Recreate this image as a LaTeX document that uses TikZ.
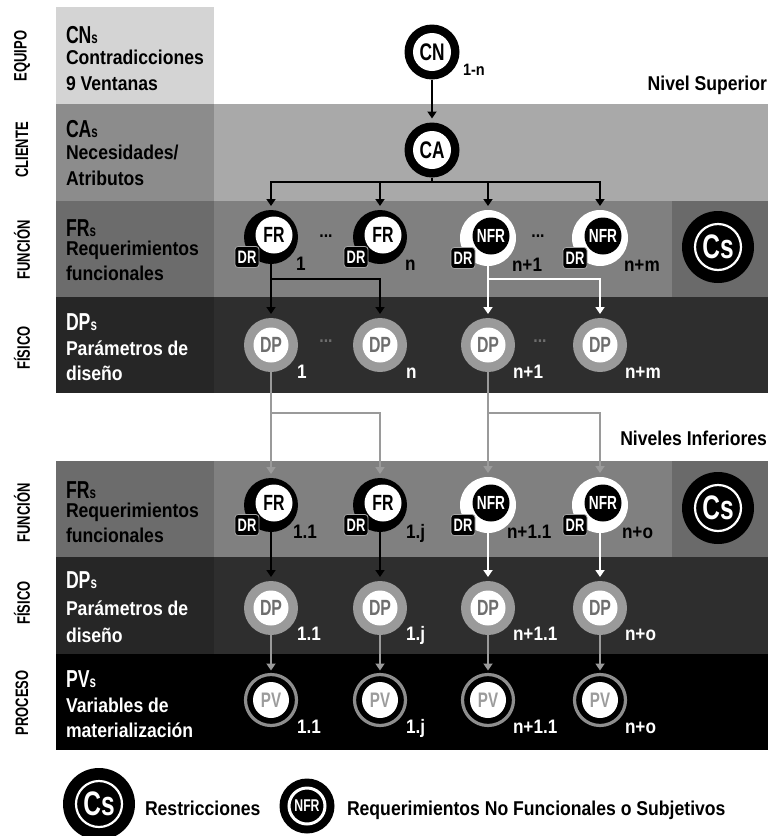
\documentclass[tikz,border=0pt]{standalone}
\usepackage{fontspec}
\setmainfont{Liberation Sans}[FakeStretch=0.88]
\newfontfamily\condfont{Liberation Sans}[FakeStretch=0.72]
\usetikzlibrary{arrows.meta}

% band and element colours
\definecolor{equipoL}{HTML}{D4D4D4}
\definecolor{clienteL}{HTML}{8C8C8C}
\definecolor{clienteR}{HTML}{A9A9A9}
\definecolor{funcL}{HTML}{6C6C6C}
\definecolor{funcM}{HTML}{808080}
\definecolor{funcC}{HTML}{6A6A6A}
\definecolor{fisL}{HTML}{262626}
\definecolor{fisM}{HTML}{2E2E2E}
\definecolor{dpring}{HTML}{9A9A9A}
\definecolor{dptext}{HTML}{6E6E6E}
\definecolor{pvring}{HTML}{8E8E8E}
\definecolor{pvtext}{HTML}{9C9C9C}
\definecolor{gline}{HTML}{9A9A9A}

\tikzset{
  every node/.style={inner sep=0pt, outer sep=0pt},
  bodytxt/.style={anchor=base west, font=\bfseries\fontsize{20}{22}\selectfont},
  headtxt/.style={anchor=base west, font=\condfont\bfseries\fontsize{24.5}{26}\selectfont},
  sidetxt/.style={rotate=90, font=\condfont\bfseries\fontsize{18}{20}\selectfont},
  numtxt/.style={anchor=base west, font=\bfseries\fontsize{19.5}{20}\selectfont},
  legtxt/.style={anchor=base west, font=\bfseries\fontsize{20}{22}\selectfont},
  disk/.style={circle, minimum size=#1},
  drbox/.style={rounded corners=3pt, fill=black, draw=gray!70, line width=0.8pt,
    minimum width=24pt, minimum height=21pt, text=white,
    font=\condfont\bfseries\fontsize{18}{18}\selectfont},
  conn/.style={line width=2.6pt, -{Triangle[width=9pt,length=7pt]}, shorten >=4pt},
  bus/.style={line width=2.6pt},
}

\newcommand{\smalls}{{\fontsize{16}{16}\selectfont s}}

% node makers: name, x, y
\newcommand{\mkfr}[3]{%
  \node[disk=54pt, fill=black] (#1) at (#2,#3) {};
  \node[disk=37pt, fill=white, font=\condfont\bfseries\fontsize{22}{22}\selectfont] at ([shift={(3,-2)}]#1.center) {FR};
  \node[drbox] at ([shift={(-24,20)}]#1.center) {DR};}
\newcommand{\mknfr}[3]{%
  \node[disk=56pt, fill=white] (#1) at (#2,#3) {};
  \node[disk=37pt, fill=black, text=white, font=\condfont\bfseries\fontsize{19}{19}\selectfont] at ([shift={(3,-2)}]#1.center) {NFR};
  \node[drbox] at ([shift={(-25,20)}]#1.center) {DR};}
\newcommand{\mkdp}[3]{%
  \node[disk=54pt, fill=dpring] (#1) at (#2,#3) {};
  \node[disk=35pt, fill=white, text=dptext, font=\condfont\bfseries\fontsize{22}{22}\selectfont] at (#1.center) {DP};}
\newcommand{\mkpv}[3]{%
  \node[disk=51pt, fill=black, draw=pvring, line width=3.2pt] (#1) at (#2,#3) {};
  \node[disk=36pt, fill=white, text=pvtext, font=\condfont\bfseries\fontsize{21}{21}\selectfont] at (#1.center) {PV};}
\newcommand{\mkcs}[3]{%
  \node[disk=72pt, fill=black] (#1) at (#2,#3) {};
  \node[disk=46pt, draw=white, line width=2.2pt, text=white, font=\condfont\bfseries\fontsize{34}{34}\selectfont] at (#1.center) {Cs};}

\begin{document}
\begin{tikzpicture}[x=1pt,y=-1pt]
\useasboundingbox (0,0) rectangle (778,836);

% ---------- upper level bands ----------
\fill[equipoL] (56,7) rectangle (214,104);
\fill[clienteL] (56,104) rectangle (214,201);
\fill[clienteR] (214,104) rectangle (768,201);
\fill[funcL] (56,201) rectangle (214,297);
\fill[funcM] (214,201) rectangle (672,297);
\fill[funcC] (672,201) rectangle (768,297);
\fill[fisL] (56,297) rectangle (214,393);
\fill[fisM] (214,297) rectangle (768,393);

% ---------- lower level bands ----------
\fill[funcL] (56,461) rectangle (214,557);
\fill[funcM] (214,461) rectangle (672,557);
\fill[funcC] (672,461) rectangle (768,557);
\fill[fisL] (56,557) rectangle (214,654);
\fill[fisM] (214,557) rectangle (768,654);
\fill[black] (56,654) rectangle (768,750);

% ---------- side labels ----------
\node[sidetxt] (sEq) at (22,56) {EQUIPO};
\node[sidetxt] (sCl) at (22,150) {CLIENTE};
\node[sidetxt] (sFu1) at (22,250) {FUNCIÓN};
\node[sidetxt] (sFi1) at (22,348) {FÍSICO};
\node[sidetxt] (sFu2) at (22,513) {FUNCIÓN};
\node[sidetxt] (sFi2) at (22,603) {FÍSICO};
\node[sidetxt] (sPr) at (22,703) {PROCESO};

% ---------- band descriptions ----------
\node[headtxt] (hCN) at (66,43) {CN\smalls};
\node[bodytxt] (tCN1) at (66,64) {Contradicciones};
\node[bodytxt] (tCN2) at (66,90) {9 Ventanas};

\node[headtxt] (hCA) at (66,137) {CA\smalls};
\node[bodytxt] (tCA1) at (66,159) {Necesidades/};
\node[bodytxt] (tCA2) at (66,185) {Atributos};

\node[headtxt] (hFR1) at (66,236) {FR\smalls};
\node[bodytxt] (tFR1a) at (66,255) {Requerimientos};
\node[bodytxt] (tFR1b) at (66,280) {funcionales};

\begin{scope}[text=white]
\node[headtxt] (hDP1) at (66,330) {DP\smalls};
\node[bodytxt] (tDP1a) at (66,355) {Parámetros de};
\node[bodytxt] (tDP1b) at (66,380) {diseño};
\end{scope}

\node[headtxt] (hFR2) at (66,498) {FR\smalls};
\node[bodytxt] (tFR2a) at (66,517) {Requerimientos};
\node[bodytxt] (tFR2b) at (66,542) {funcionales};

\begin{scope}[text=white]
\node[headtxt] (hDP2) at (66,588) {DP\smalls};
\node[bodytxt] (tDP2a) at (66,615) {Parámetros de};
\node[bodytxt] (tDP2b) at (66,642) {diseño};

\node[headtxt] (hPV) at (66,687) {PV\smalls};
\node[bodytxt] (tPVa) at (66,712) {Variables de};
\node[bodytxt] (tPVb) at (66,737) {materialización};
\end{scope}

% level titles
\node[bodytxt, anchor=base east] (lvSup) at (767,90) {Nivel Superior};
\node[bodytxt, anchor=base east] (lvInf) at (767,445) {Niveles Inferiores};

% ---------- upper level nodes ----------
\node[disk=55pt, fill=black] (cn) at (432,52) {};
\node[disk=38pt, fill=white, font=\condfont\bfseries\fontsize{24}{24}\selectfont] at (cn.center) {CN};
\node[numtxt, font=\bfseries\fontsize{16.5}{16.5}\selectfont] (cnlab) at (463,75) {1-n};

\node[disk=55pt, fill=black] (ca) at (432,150) {};
\node[disk=38pt, fill=white, font=\condfont\bfseries\fontsize{24}{24}\selectfont] at (ca.center) {CA};

\mkfr{fra}{271}{237}
\mkfr{frb}{380}{237}
\mknfr{nfra}{488}{238}
\mknfr{nfrb}{600}{238}
\mkcs{csa}{718}{247}

\node[font=\bfseries\fontsize{18}{18}\selectfont] (dotsA) at (326,236) {...};
\node[font=\bfseries\fontsize{18}{18}\selectfont] (dotsB) at (538,236) {...};

\mkdp{dpa}{271}{345}
\mkdp{dpb}{380}{345}
\mkdp{dpc}{488}{345}
\mkdp{dpd}{600}{345}
\node[text=dptext, font=\bfseries\fontsize{18}{18}\selectfont] (dotsC) at (326,341) {...};
\node[text=dptext, font=\bfseries\fontsize{18}{18}\selectfont] (dotsD) at (540,341) {...};

% index labels, upper level
\node[numtxt] at ([shift={(25,33)}]fra.center) {1};
\node[numtxt] at ([shift={(25,33)}]frb.center) {n};
\node[numtxt] at ([shift={(24,33)}]nfra.center) {n+1};
\node[numtxt] at ([shift={(24,33)}]nfrb.center) {n+m};
\begin{scope}[text=white]
\node[numtxt] at ([shift={(26,33)}]dpa.center) {1};
\node[numtxt] at ([shift={(26,33)}]dpb.center) {n};
\node[numtxt] at ([shift={(25,33)}]dpc.center) {n+1};
\node[numtxt] at ([shift={(25,33)}]dpd.center) {n+m};
\end{scope}

% ---------- lower level nodes ----------
\mkfr{lfra}{271}{505}
\mkfr{lfrb}{380}{505}
\mknfr{lnfra}{488}{505}
\mknfr{lnfrb}{600}{505}
\mkcs{csb}{718}{508}

\mkdp{ldpa}{271}{608}
\mkdp{ldpb}{380}{608}
\mkdp{ldpc}{488}{608}
\mkdp{ldpd}{600}{608}

\mkpv{pva}{271}{700}
\mkpv{pvb}{380}{700}
\mkpv{pvc}{488}{700}
\mkpv{pvd}{600}{700}

% index labels, lower level
\node[numtxt] at ([shift={(22,33)}]lfra.center) {1.1};
\node[numtxt] at ([shift={(26,33)}]lfrb.center) {1.j};
\node[numtxt] at ([shift={(19,33)}]lnfra.center) {n+1.1};
\node[numtxt] at ([shift={(22,33)}]lnfrb.center) {n+o};
\begin{scope}[text=white]
\node[numtxt] at ([shift={(26,32)}]ldpa.center) {1.1};
\node[numtxt] at ([shift={(26,32)}]ldpb.center) {1.j};
\node[numtxt] at ([shift={(25,32)}]ldpc.center) {n+1.1};
\node[numtxt] at ([shift={(25,32)}]ldpd.center) {n+o};
\node[numtxt] at ([shift={(26,33)}]pva.center) {1.1};
\node[numtxt] at ([shift={(26,33)}]pvb.center) {1.j};
\node[numtxt] at ([shift={(25,33)}]pvc.center) {n+1.1};
\node[numtxt] at ([shift={(25,33)}]pvd.center) {n+o};
\end{scope}

% ---------- connectors ----------
\coordinate (busCA) at (432,182);
\coordinate (busFR) at (271,279);
\coordinate (busNFR) at (488,279);
\coordinate (busDP) at (271,413);
\coordinate (busDPn) at (488,413);

\draw[conn] (cn.south) -- (ca.north);
\draw[bus] (ca.south) -- (busCA);
\draw[conn] (busCA) -| (fra.north);
\draw[conn] (busCA) -| (frb.north);
\draw[conn] (busCA) -| (nfra.north);
\draw[conn] (busCA) -| (nfrb.north);

\draw[conn] (fra.south) -- (dpa.north);
\draw[conn] (busFR) -| (dpb.north);
\draw[conn, white] (nfra.south) -- (dpc.north);
\draw[conn, white] (busNFR) -| (dpd.north);

\draw[conn, gline] (dpa.south) -- (lfra.north);
\draw[conn, gline] (busDP) -| (lfrb.north);
\draw[conn, gline] (dpc.south) -- (lnfra.north);
\draw[conn, gline] (busDPn) -| (lnfrb.north);

\draw[conn] (lfra.south) -- (ldpa.north);
\draw[conn] (lfrb.south) -- (ldpb.north);
\draw[conn, white] (lnfra.south) -- (ldpc.north);
\draw[conn, white] (lnfrb.south) -- (ldpd.north);

\draw[conn, gline] (ldpa.south) -- (pva.north);
\draw[conn, gline] (ldpb.south) -- (pvb.north);
\draw[conn, gline] (ldpc.south) -- (pvc.north);
\draw[conn, gline] (ldpd.south) -- (pvd.north);

% ---------- legend ----------
\mkcs{legcs}{99}{804}
\node[legtxt] (legcsT) at (145,815) {Restricciones};
\node[disk=55pt, fill=black] (legnfr) at (307,806) {};
\node[disk=36pt, draw=white, line width=3pt, text=white, font=\condfont\bfseries\fontsize{17}{17}\selectfont] at (legnfr.center) {NFR};
\node[legtxt] (legnfrT) at (347,815) {Requerimientos No Funcionales o Subjetivos};
\end{tikzpicture}
\end{document}
